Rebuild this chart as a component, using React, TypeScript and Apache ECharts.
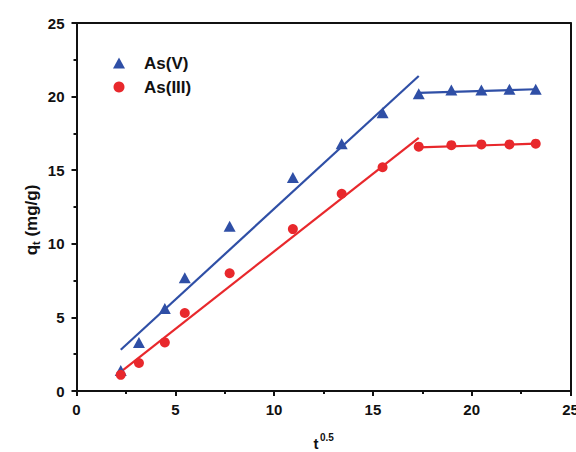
import React, { useEffect, useRef } from "react";
import * as echarts from "echarts";

const sqrtTime = [2.24, 3.16, 4.47, 5.48, 7.75, 10.95, 13.42, 15.49, 17.32, 18.97, 20.49, 21.91, 23.24];
const asV = [1.4, 3.3, 5.6, 7.7, 11.2, 14.5, 16.8, 18.9, 20.2, 20.45, 20.45, 20.5, 20.5];
const asIII = [1.1, 1.9, 3.3, 5.3, 8.0, 11.0, 13.4, 15.2, 16.6, 16.7, 16.75, 16.75, 16.8];
const fitVLinear = [[2.24, 2.8], [17.32, 21.4]];
const fitVPlateau = [[17.32, 20.25], [23.24, 20.5]];
const fitIIILinear = [[2.24, 1.3], [17.32, 17.2]];
const fitIIIPlateau = [[17.32, 16.55], [23.24, 16.8]];
const xTicks = [0, 5, 10, 15, 20, 25];
const yTicks = [0, 5, 10, 15, 20, 25];

const BLUE = "#2f4fa6";
const RED = "#e8282c";
const FONT = "Liberation Sans";
const INK = "#111";

export default function App() {
  const ref = useRef<HTMLDivElement>(null);
  useEffect(() => {
    const chart = echarts.init(ref.current!, null, { renderer: "svg" });
    const axisCommon = {
      axisLine: { show: true, onZero: false, lineStyle: { color: INK, width: 2 } },
      axisTick: { show: true, inside: false, length: 5, lineStyle: { color: INK, width: 2 } },
      minorTick: { show: true, splitNumber: 2, length: 3, lineStyle: { color: INK, width: 2 } },
      splitLine: { show: false },
      axisLabel: { color: INK, fontFamily: FONT, fontWeight: "bold", fontSize: 15 },
    };
    const frameAxis = {
      type: "value",
      min: 0,
      max: 25,
      interval: 5,
      axisLine: { show: true, onZero: false, lineStyle: { color: INK, width: 2 } },
      axisTick: { show: false },
      axisLabel: { show: false },
      splitLine: { show: false },
    };
    chart.setOption({
      animation: false,
      backgroundColor: "#fff",
      grid: { left: 76.5, right: 5.5, top: 23, bottom: 61, show: false, containLabel: false, outerBoundsMode: "none" },
      legend: {
        orient: "vertical",
        left: 113,
        top: 53,
        padding: 0,
        itemGap: 4,
        itemWidth: 12,
        itemHeight: 11,
        textStyle: { fontFamily: FONT, fontWeight: "bold", fontSize: 17, lineHeight: 20, color: INK, padding: [0, 0, 0, 14] },
        data: [
          { name: "As(V)", icon: "triangle" },
          { name: "As(III)", icon: "circle" },
        ],
      },
      graphic: [
        {
          type: "text",
          x: 31,
          y: 220,
          rotation: Math.PI / 2,
          style: {
            text: "{a|q}{b|t}{a| (mg/g)}",
            align: "center",
            verticalAlign: "middle",
            rich: {
              a: { fontFamily: FONT, fontWeight: "bold", fontSize: 17, fill: INK, lineHeight: 20 },
              b: { fontFamily: FONT, fontWeight: "bold", fontSize: 11, fill: INK, verticalAlign: "bottom", lineHeight: 14 },
            },
          },
        },
        {
          type: "text",
          x: 316,
          y: 443,
          style: { text: "t", align: "center", verticalAlign: "middle", fontFamily: FONT, fontWeight: "bold", fontSize: 15, fill: INK },
        },
        {
          type: "text",
          x: 320,
          y: 437,
          style: { text: "0.5", align: "left", verticalAlign: "middle", fontFamily: FONT, fontWeight: "bold", fontSize: 10, fill: INK },
        },
      ],
      xAxis: [
        {
          type: "value",
          min: xTicks[0],
          max: xTicks[xTicks.length - 1],
          interval: 5,
          ...axisCommon,
          axisLabel: { ...axisCommon.axisLabel, margin: 11 },
        },
        { ...frameAxis, position: "top" },
      ],
      yAxis: [
        {
          type: "value",
          min: yTicks[0],
          max: yTicks[yTicks.length - 1],
          interval: 5,
          ...axisCommon,
          axisLabel: { ...axisCommon.axisLabel, margin: 12 },
        },
        { ...frameAxis, position: "right" },
      ],
      series: [
        {
          name: "As(V)",
          type: "scatter",
          symbol: "triangle",
          symbolSize: [12, 11],
          itemStyle: { color: BLUE, opacity: 1 },
          data: sqrtTime.map((x, i) => [x, asV[i]]),
          z: 5,
        },
        {
          name: "As(III)",
          type: "scatter",
          symbol: "circle",
          symbolSize: 10,
          itemStyle: { color: RED, opacity: 1 },
          data: sqrtTime.map((x, i) => [x, asIII[i]]),
          z: 5,
        },
        ...[
          [fitVLinear, BLUE],
          [fitVPlateau, BLUE],
          [fitIIILinear, RED],
          [fitIIIPlateau, RED],
        ].map(([d, c], i) => ({
          name: "fit" + i,
          type: "line",
          data: d,
          showSymbol: false,
          symbol: "none",
          lineStyle: { color: c, width: 2.2 },
          z: 3,
        })),
      ],
    });
    return () => chart.dispose();
  }, []);
  return <div ref={ref} style={{ width: 576, height: 452, position: "absolute", left: 0, top: 0 }} />;
}
